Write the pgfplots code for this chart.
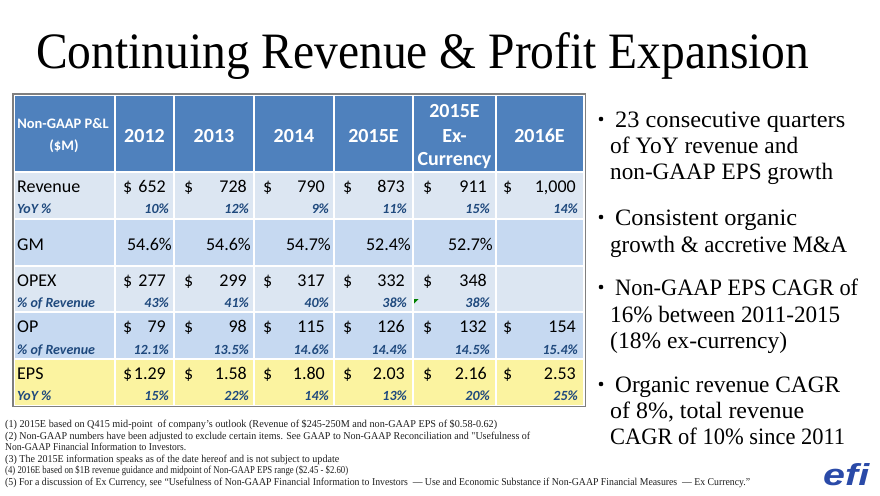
\documentclass[border=0pt]{standalone}
\usepackage{pgfplots}
\pgfplotsset{compat=1.18}
\usepackage{pgfplotstable}
\usepackage{graphicx}
\usepackage{fontspec}
\setmainfont{Carlito}
\newfontfamily\geo{Liberation Serif}
\newfontfamily\logofont{Liberation Sans}
\definecolor{hdr}{HTML}{4F81BD}
\definecolor{rowA}{HTML}{DCE6F2}
\definecolor{rowB}{HTML}{C6D9F1}
\definecolor{rowY}{HTML}{FBF3A0}
\definecolor{pctblue}{HTML}{1F497D}
\definecolor{bord}{HTML}{7F7F7F}
\definecolor{efiblue}{HTML}{2A4AA8}
\definecolor{foot}{HTML}{1E1E1E}

% main values (right aligned)
\pgfplotstableread[col sep=semicolon]{
x;y;t
166;192;652
247;192;728
325;192;790
405;192;873
487;192;911
576;192;1,000
166;286;277
247;286;299
325;286;317
405;286;332
487;286;348
166;332;79
247;332;98
325;332;115
405;332;126
487;332;132
576;332;154
166;379;1.29
247;379;1.58
325;379;1.80
405;379;2.03
487;379;2.16
576;379;2.53
}\mainvals

% gross margin (percent)
\pgfplotstableread[col sep=semicolon]{
x;y;t
172;250;54.6
251;250;54.6
331;250;54.7
411;250;52.4
493;250;52.7
}\gmvals

% italic percentages
\pgfplotstableread[col sep=semicolon]{
x;y;t
169;213;10
249;213;12
329;213;9
407;213;11
490;213;15
578;213;14
169;307;43
249;307;41
329;307;40
407;307;38
490;307;38
169;354;12.1
249;354;13.5
329;354;14.6
407;354;14.4
490;354;14.5
578;354;15.4
169;400;15
249;400;22
329;400;14
407;400;13
490;400;20
578;400;25
}\pctvals

% dollar signs
\pgfplotstableread[col sep=semicolon]{
x;y
123;192
184;192
263;192
343;192
423;192
503;192
123;286
184;286
263;286
343;286
423;286
123;332
184;332
263;332
343;332
423;332
503;332
123;379
184;379
263;379
343;379
423;379
503;379
}\dollars

\begin{document}
\begin{tikzpicture}
\begin{axis}[
  width=880pt, height=495pt, scale only axis,
  xmin=0, xmax=880, ymin=0, ymax=495, y dir=reverse,
  hide axis, clip=false,
]
\path (axis cs:0,0) rectangle (axis cs:880,495);
% title
\node[anchor=base west, inner sep=0pt] at (axis cs:36,68)
  {\resizebox{773pt}{\height}{\geo\fontsize{51}{51}\selectfont Continuing Revenue \& Profit Expansion}};

% table frame and rows
\fill[white] (axis cs:13,94) rectangle (axis cs:586,407);
\fill[hdr]  (axis cs:15,96)  rectangle (axis cs:583,172);
\fill[rowA] (axis cs:15,172) rectangle (axis cs:583,219);
\fill[rowB] (axis cs:15,219) rectangle (axis cs:583,266);
\fill[rowA] (axis cs:15,266) rectangle (axis cs:583,312);
\fill[rowB] (axis cs:15,312) rectangle (axis cs:583,359);
\fill[rowY] (axis cs:15,359) rectangle (axis cs:583,405);
\draw[white, line width=2pt] (axis cs:115,95) -- (axis cs:115,406);
\draw[white, line width=2pt] (axis cs:174,95) -- (axis cs:174,406);
\draw[white, line width=2pt] (axis cs:254,95) -- (axis cs:254,406);
\draw[white, line width=2pt] (axis cs:334,95) -- (axis cs:334,406);
\draw[white, line width=2pt] (axis cs:413,95) -- (axis cs:413,406);
\draw[white, line width=2pt] (axis cs:496,95) -- (axis cs:496,406);
\draw[white, line width=2pt] (axis cs:14,172) -- (axis cs:584,172);
\draw[white, line width=2pt] (axis cs:14,219) -- (axis cs:584,219);
\draw[white, line width=2pt] (axis cs:14,266) -- (axis cs:584,266);
\draw[white, line width=2pt] (axis cs:14,312) -- (axis cs:584,312);
\draw[white, line width=2pt] (axis cs:14,359) -- (axis cs:584,359);
\draw[bord, line width=1.3pt] (axis cs:13,94) rectangle (axis cs:585.5,406.5);
\fill[green!50!black] (axis cs:414,299) -- (axis cs:418.5,299) -- (axis cs:414,303.5) -- cycle;

% header texts
\begin{scope}[every node/.style={anchor=base, inner sep=0pt, text=white}]
\node[font=\bfseries\fontsize{14.5}{14.5}\selectfont] at (axis cs:63,128) {Non-GAAP P\&L};
\node[font=\bfseries\fontsize{14.5}{14.5}\selectfont] at (axis cs:64,150) {(\$M)};
\node[font=\bfseries\fontsize{20}{20}\selectfont] at (axis cs:144.5,142) {2012};
\node[font=\bfseries\fontsize{20}{20}\selectfont] at (axis cs:214,142) {2013};
\node[font=\bfseries\fontsize{20}{20}\selectfont] at (axis cs:294,142) {2014};
\node[font=\bfseries\fontsize{20}{20}\selectfont] at (axis cs:373.5,142) {2015E};
\node[font=\bfseries\fontsize{20}{20}\selectfont] at (axis cs:454.5,117) {2015E};
\node[font=\bfseries\fontsize{20}{20}\selectfont] at (axis cs:454.5,142) {Ex-};
\node[font=\bfseries\fontsize{20}{20}\selectfont] at (axis cs:454.5,165) {Currency};
\node[font=\bfseries\fontsize{20}{20}\selectfont] at (axis cs:539.5,142) {2016E};
\end{scope}

% row labels
\begin{scope}[every node/.style={anchor=base west, inner sep=0pt}]
\node[font=\fontsize{18}{18}\selectfont] at (axis cs:17,192) {Revenue};
\node[font=\fontsize{18}{18}\selectfont] at (axis cs:17,250) {GM};
\node[font=\fontsize{18}{18}\selectfont] at (axis cs:17,286) {OPEX};
\node[font=\fontsize{18}{18}\selectfont] at (axis cs:17,332) {OP};
\node[font=\fontsize{18}{18}\selectfont] at (axis cs:17,379) {EPS};
\node[font=\bfseries\itshape\fontsize{14}{14}\selectfont, text=pctblue] at (axis cs:17,213) {YoY \%};
\node[font=\bfseries\itshape\fontsize{14}{14}\selectfont, text=pctblue] at (axis cs:17,307) {\% of Revenue};
\node[font=\bfseries\itshape\fontsize{14}{14}\selectfont, text=pctblue] at (axis cs:17,354) {\% of Revenue};
\node[font=\bfseries\itshape\fontsize{14}{14}\selectfont, text=pctblue] at (axis cs:17,400) {YoY \%};
\end{scope}

% values
\addplot[draw=none, mark=none, point meta=explicit symbolic,
  nodes near coords={\pgfplotspointmeta},
  every node near coord/.append style={anchor=base east, inner sep=0pt, text=black, font=\fontsize{18}{18}\selectfont}]
  table[x=x, y=y, meta=t] {\mainvals};
\addplot[draw=none, mark=none, point meta=explicit symbolic,
  nodes near coords={\pgfplotspointmeta\%},
  every node near coord/.append style={anchor=base east, inner sep=0pt, text=black, font=\fontsize{18}{18}\selectfont}]
  table[x=x, y=y, meta=t] {\gmvals};
\addplot[draw=none, mark=none, point meta=explicit symbolic,
  nodes near coords={\pgfplotspointmeta\%},
  every node near coord/.append style={anchor=base east, inner sep=0pt, text=pctblue, font=\bfseries\itshape\fontsize{14}{14}\selectfont}]
  table[x=x, y=y, meta=t] {\pctvals};
\addplot[draw=none, mark=none, point meta=explicit symbolic,
  nodes near coords={\$},
  every node near coord/.append style={anchor=base west, inner sep=0pt, text=black, font=\fontsize{18}{18}\selectfont}]
  table[x=x, y=y, meta=x] {\dollars};

% bullets
\fill[black] (axis cs:601,119) circle (2.3pt);
\fill[black] (axis cs:601,217) circle (2.3pt);
\fill[black] (axis cs:601,287) circle (2.3pt);
\fill[black] (axis cs:601,384) circle (2.3pt);
\begin{scope}[every node/.style={anchor=base west, inner sep=0pt}]
\node at (axis cs:615,127) {\resizebox{230pt}{\height}{\geo\fontsize{23.5}{23.5}\selectfont 23 consecutive quarters}};
\node at (axis cs:610,153) {\resizebox{188pt}{\height}{\geo\fontsize{23.5}{23.5}\selectfont of YoY revenue and}};
\node at (axis cs:610,179) {\resizebox{223pt}{\height}{\geo\fontsize{23.5}{23.5}\selectfont non-GAAP EPS growth}};
\node at (axis cs:615,225) {\resizebox{182pt}{\height}{\geo\fontsize{23.5}{23.5}\selectfont Consistent organic}};
\node at (axis cs:610,252) {\resizebox{237pt}{\height}{\geo\fontsize{23.5}{23.5}\selectfont growth \& accretive M\&A}};
\node at (axis cs:615,295) {\resizebox{243pt}{\height}{\geo\fontsize{23.5}{23.5}\selectfont Non-GAAP EPS CAGR of}};
\node at (axis cs:610,322) {\resizebox{230pt}{\height}{\geo\fontsize{23.5}{23.5}\selectfont 16\% between 2011-2015}};
\node at (axis cs:610,348) {\resizebox{177pt}{\height}{\geo\fontsize{23.5}{23.5}\selectfont (18\% ex-currency)}};
\node at (axis cs:615,392) {\resizebox{225pt}{\height}{\geo\fontsize{23.5}{23.5}\selectfont Organic revenue CAGR}};
\node at (axis cs:610,418) {\resizebox{194pt}{\height}{\geo\fontsize{23.5}{23.5}\selectfont of 8\%, total revenue}};
\node at (axis cs:610,444) {\resizebox{235pt}{\height}{\geo\fontsize{23.5}{23.5}\selectfont CAGR of 10\% since 2011}};
\end{scope}

% footnotes
\begin{scope}[every node/.style={anchor=base west, inner sep=0pt, text=foot}]
\node at (axis cs:5,427.5) {\resizebox{492pt}{\height}{\geo\fontsize{10.5}{10.5}\selectfont (1) 2015E based on Q415 mid-point \ of company’s outlook (Revenue of \$245-250M and non-GAAP EPS of \$0.58-0.62)}};
\node at (axis cs:5,439) {\resizebox{525pt}{\height}{\geo\fontsize{10.5}{10.5}\selectfont (2) Non-GAAP numbers have been adjusted to exclude certain items. See GAAP to Non-GAAP Reconciliation and "Usefulness of}};
\node at (axis cs:5,450.5) {\resizebox{181pt}{\height}{\geo\fontsize{10.5}{10.5}\selectfont Non-GAAP Financial Information to Investors.}};
\node at (axis cs:5,462) {\resizebox{334pt}{\height}{\geo\fontsize{10.5}{10.5}\selectfont (3) The 2015E information speaks as of the date hereof and is not subject to update}};
\node at (axis cs:5,473.5) {\resizebox{343pt}{\height}{\geo\fontsize{10.5}{10.5}\selectfont (4) 2016E based on \$1B revenue guidance and midpoint of Non-GAAP EPS range (\$2.45 - \$2.60)}};
\node at (axis cs:5,485) {\resizebox{745pt}{\height}{\geo\fontsize{10.5}{10.5}\selectfont (5) For a discussion of Ex Currency, see “Usefulness of Non-GAAP Financial Information to Investors \ — Use and Economic Substance if Non-GAAP Financial Measures \ — Ex Currency.”}};
\end{scope}

% logo
\node[anchor=base west, inner sep=0pt] at (axis cs:823,485)
  {\resizebox{46pt}{22pt}{\color{efiblue}\logofont\bfseries\itshape efi}};
\end{axis}
\end{tikzpicture}
\end{document}
